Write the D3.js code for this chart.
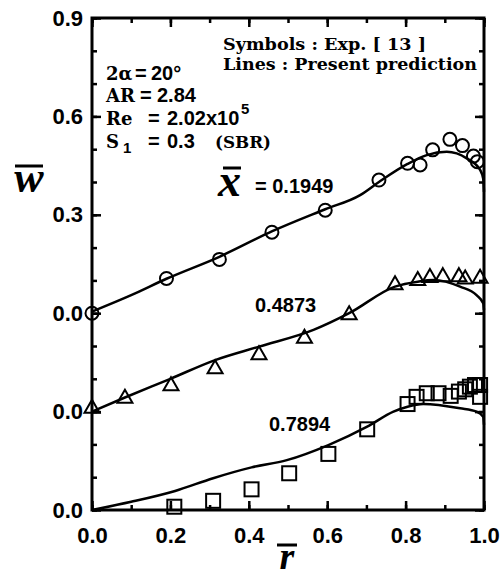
<!DOCTYPE html>
<html>
<head>
<meta charset="utf-8">
<script src="https://cdn.jsdelivr.net/npm/d3@7"></script>
<style>
  body { margin: 0; background: #fff; }
  text { fill: #000; }
</style>
</head>
<body>
<svg id="area" width="504" height="578"></svg>
<script>
// r-bar positions and w-bar values (before the 0.3 stacking offset)
const predTop = [[0, 0.005], [0.1, 0.055], [0.19, 0.105], [0.325, 0.172], [0.46, 0.25], [0.595, 0.317],
  [0.684, 0.36], [0.732, 0.40], [0.805, 0.455], [0.854, 0.482], [0.905, 0.492], [0.956, 0.472],
  [0.99, 0.437], [0.998, 0.41], [1.0, 0.37]];
const predMid = [[0, 0.0], [0.084, 0.043], [0.2, 0.10], [0.314, 0.157], [0.426, 0.198], [0.565, 0.249],
  [0.656, 0.30], [0.773, 0.381], [0.831, 0.396], [0.871, 0.401], [0.939, 0.381], [0.981, 0.355],
  [0.998, 0.33], [1.0, 0.31]];
const predBot = [[0, 0.0], [0.1, 0.025], [0.212, 0.058], [0.309, 0.097], [0.407, 0.130], [0.497, 0.152],
  [0.603, 0.198], [0.702, 0.254], [0.769, 0.300], [0.805, 0.315], [0.845, 0.323], [0.939, 0.310],
  [0.981, 0.300], [0.998, 0.284], [1.0, 0.26]];

const expCircles = [[0, 0.0], [0.19, 0.106], [0.325, 0.164], [0.459, 0.247], [0.595, 0.314], [0.732, 0.406],
  [0.805, 0.457], [0.837, 0.452], [0.869, 0.498], [0.913, 0.530], [0.945, 0.511], [0.973, 0.479], [0.983, 0.462]];
const expTriangles = [[0, 0.01], [0.084, 0.04], [0.2015, 0.078], [0.314, 0.13], [0.426, 0.173], [0.542, 0.223],
  [0.656, 0.295], [0.773, 0.386], [0.831, 0.399], [0.862, 0.408], [0.895, 0.411], [0.936, 0.411],
  [0.952, 0.404], [0.99, 0.406]];
const expSquares = [[0.21, 0.010], [0.309, 0.028], [0.407, 0.063], [0.503, 0.112], [0.603, 0.171], [0.702, 0.246],
  [0.805, 0.323], [0.828, 0.345], [0.854, 0.356], [0.884, 0.356], [0.915, 0.348], [0.936, 0.361],
  [0.952, 0.368], [0.964, 0.376], [0.977, 0.381], [0.99, 0.381], [0.99, 0.345]];

const offsets = [0.6, 0.3, 0.0];
const stationLabels = ['0.1949', '0.4873', '0.7894'];

const xTicks = [0, 0.2, 0.4, 0.6, 0.8, 1.0];
const xTickLabels = ['0.0', '0.2', '0.4', '0.6', '0.8', '1.0'];
const yTicks = [0, 0.3, 0.6, 0.9, 1.2, 1.5];
const yTickLabels = ['0.0', '0.0', '0.0', '0.3', '0.6', '0.9'];

const svg = d3.select('#area');
const margin = { top: 18, bottom: 68, left: 92, right: 20 };
const width = 504 - margin.left - margin.right;
const height = 578 - margin.top - margin.bottom;

const x = d3.scaleLinear().domain([0, 1]).range([margin.left, margin.left + width]);
const y = d3.scaleLinear().domain([0, 1.5]).range([margin.top + height, margin.top]);

const sans = '"Liberation Sans", Arial, sans-serif';
const serif = '"DejaVu Serif", serif';
const tSerif = '"Liberation Serif", "Times New Roman", serif';

// ticks (all pointing inward)
const minorX = d3.range(0, 1.0001, 0.1);
const minorY = d3.range(0, 1.5001, 0.1);
function tickAxis(axis, vals, size, fmt, pos) {
  const g = svg.append('g')
    .attr('transform', pos)
    .call(axis.tickValues(vals).tickSizeInner(-size).tickSizeOuter(0)
      .tickPadding(9).tickFormat(fmt));
  g.select('.domain').remove();
  g.selectAll('line').attr('stroke-width', 2.5);
  g.selectAll('text')
    .style('font-family', sans).style('font-weight', 'bold').style('font-size', '22px');
  return g;
}
const none = () => '';
tickAxis(d3.axisBottom(x), minorX, 5, none, `translate(0,${y(0)})`);
tickAxis(d3.axisTop(x), minorX, 5, none, `translate(0,${y(1.5)})`);
tickAxis(d3.axisLeft(y), minorY, 5, none, `translate(${x(0)},0)`);
tickAxis(d3.axisRight(y), minorY, 5, none, `translate(${x(1)},0)`);
tickAxis(d3.axisBottom(x), xTicks, 9, (d, i) => xTickLabels[i], `translate(0,${y(0)})`)
  .selectAll('text').attr('dy', '1.07em');
tickAxis(d3.axisTop(x), xTicks, 9, none, `translate(0,${y(1.5)})`);
tickAxis(d3.axisLeft(y), yTicks, 9, (d, i) => yTickLabels[i], `translate(${x(0)},0)`);
tickAxis(d3.axisRight(y), yTicks, 9, none, `translate(${x(1)},0)`);

svg.append('rect')
  .attr('x', x(0)).attr('y', y(1.5))
  .attr('width', x(1) - x(0)).attr('height', y(0) - y(1.5))
  .attr('fill', 'none').attr('stroke', '#000').attr('stroke-width', 3);

// prediction lines
const line = d3.line()
  .x((d) => x(d[0]))
  .y((d) => y(d[1]))
  .curve(d3.curveMonotoneX);
[predTop, predMid, predBot].forEach((s, i) => {
  svg.append('path')
    .datum(s.map((d) => [d[0], d[1] + offsets[i]]))
    .attr('d', line)
    .attr('fill', 'none')
    .attr('stroke', '#000')
    .attr('stroke-width', 2.5);
});

// experimental symbols
const mk = svg.append('g').attr('fill', 'none').attr('stroke', '#000').attr('stroke-width', 2);
mk.selectAll('circle')
  .data(expCircles).enter().append('circle')
  .attr('cx', (d) => x(d[0]))
  .attr('cy', (d) => y(d[1] + offsets[0]))
  .attr('r', 6.5);
const tw = 15, th = 13;
mk.selectAll('path.tri')
  .data(expTriangles).enter().append('path')
  .attr('class', 'tri')
  .attr('d', (d) => {
    const cx = x(d[0]), cy = y(d[1] + offsets[1]);
    return `M${cx},${cy - th * 2 / 3}L${cx + tw / 2},${cy + th / 3}L${cx - tw / 2},${cy + th / 3}Z`;
  });
const sq = 14;
mk.selectAll('rect')
  .data(expSquares).enter().append('rect')
  .attr('x', (d) => x(d[0]) - sq / 2)
  .attr('y', (d) => y(d[1] + offsets[2]) - sq / 2)
  .attr('width', sq).attr('height', sq);

// legend text
svg.append('text')
  .attr('x', 223).attr('y', 50)
  .attr('textLength', 203).attr('lengthAdjust', 'spacingAndGlyphs')
  .style('font-family', serif).style('font-weight', 'bold').style('font-size', '17px')
  .text('Symbols : Exp. [ 13 ]');
svg.append('text')
  .attr('x', 223).attr('y', 70)
  .attr('textLength', 254).attr('lengthAdjust', 'spacingAndGlyphs')
  .style('font-family', serif).style('font-weight', 'bold').style('font-size', '17px')
  .text('Lines : Present prediction');

// flow parameters
function param(yy, parts) {
  const t = svg.append('text').attr('y', yy)
    .style('font-weight', 'bold').style('font-size', '20px');
  parts.forEach((p) => {
    const s = t.append('tspan').attr('x', p.x)
      .style('font-family', p.serif ? serif : sans)
      .text(p.t);
    if (p.dy) s.attr('dy', p.dy);
    if (p.size) s.style('font-size', p.size);
    if (p.len) s.attr('textLength', p.len).attr('lengthAdjust', 'spacingAndGlyphs');
  });
}
param(80, [{ x: 106, t: '2α', serif: true, size: '18px' }, { x: 135, t: '=' }, { x: 151, t: '20°' }]);
param(102, [{ x: 106, t: 'AR', serif: true, size: '18px' }, { x: 140, t: '=' }, { x: 157, t: '2.84' }]);
param(125, [{ x: 106, t: 'Re', serif: true, size: '18px' }, { x: 148, t: '=' }, { x: 167, t: '2.02x10' },
  { x: 241, t: '5', dy: -11, size: '15px' }]);
param(148, [{ x: 106, t: 'S', serif: true, size: '18px' }, { x: 123, t: '1', dy: 5, size: '15px' },
  { x: 148, t: '=', dy: -5 }, { x: 167, t: '0.3' },
  { x: 215, t: '(SBR)', serif: true, size: '17px', len: 56 }]);

// station labels
svg.append('text')
  .attr('x', 218).attr('y', 196)
  .style('font-family', tSerif).style('font-weight', 'bold').style('font-style', 'italic')
  .style('font-size', '46px')
  .text('x');
svg.append('line')
  .attr('x1', 223).attr('x2', 241).attr('y1', 168).attr('y2', 168)
  .attr('stroke', '#000').attr('stroke-width', 3);
const lblPos = [[255, 193], [255, 312], [269, 431]];
stationLabels.forEach((s, i) => {
  svg.append('text')
    .attr('x', lblPos[i][0]).attr('y', lblPos[i][1])
    .style('font-family', sans).style('font-weight', 'bold').style('font-size', '20px')
    .text(i === 0 ? `= ${s}` : s);
});

// axis titles
svg.append('text')
  .attr('x', 29).attr('y', 192).attr('text-anchor', 'middle')
  .style('font-family', tSerif).style('font-weight', 'bold').style('font-style', 'italic')
  .style('font-size', '44px')
  .text('w');
svg.append('line')
  .attr('x1', 15).attr('x2', 43).attr('y1', 166).attr('y2', 166)
  .attr('stroke', '#000').attr('stroke-width', 3);
svg.append('text')
  .attr('x', 287).attr('y', 569).attr('text-anchor', 'middle')
  .style('font-family', tSerif).style('font-weight', 'bold').style('font-style', 'italic')
  .style('font-size', '38px')
  .text('r');
svg.append('line')
  .attr('x1', 277).attr('x2', 297).attr('y1', 545).attr('y2', 545)
  .attr('stroke', '#000').attr('stroke-width', 3);
</script>
</body>
</html>
